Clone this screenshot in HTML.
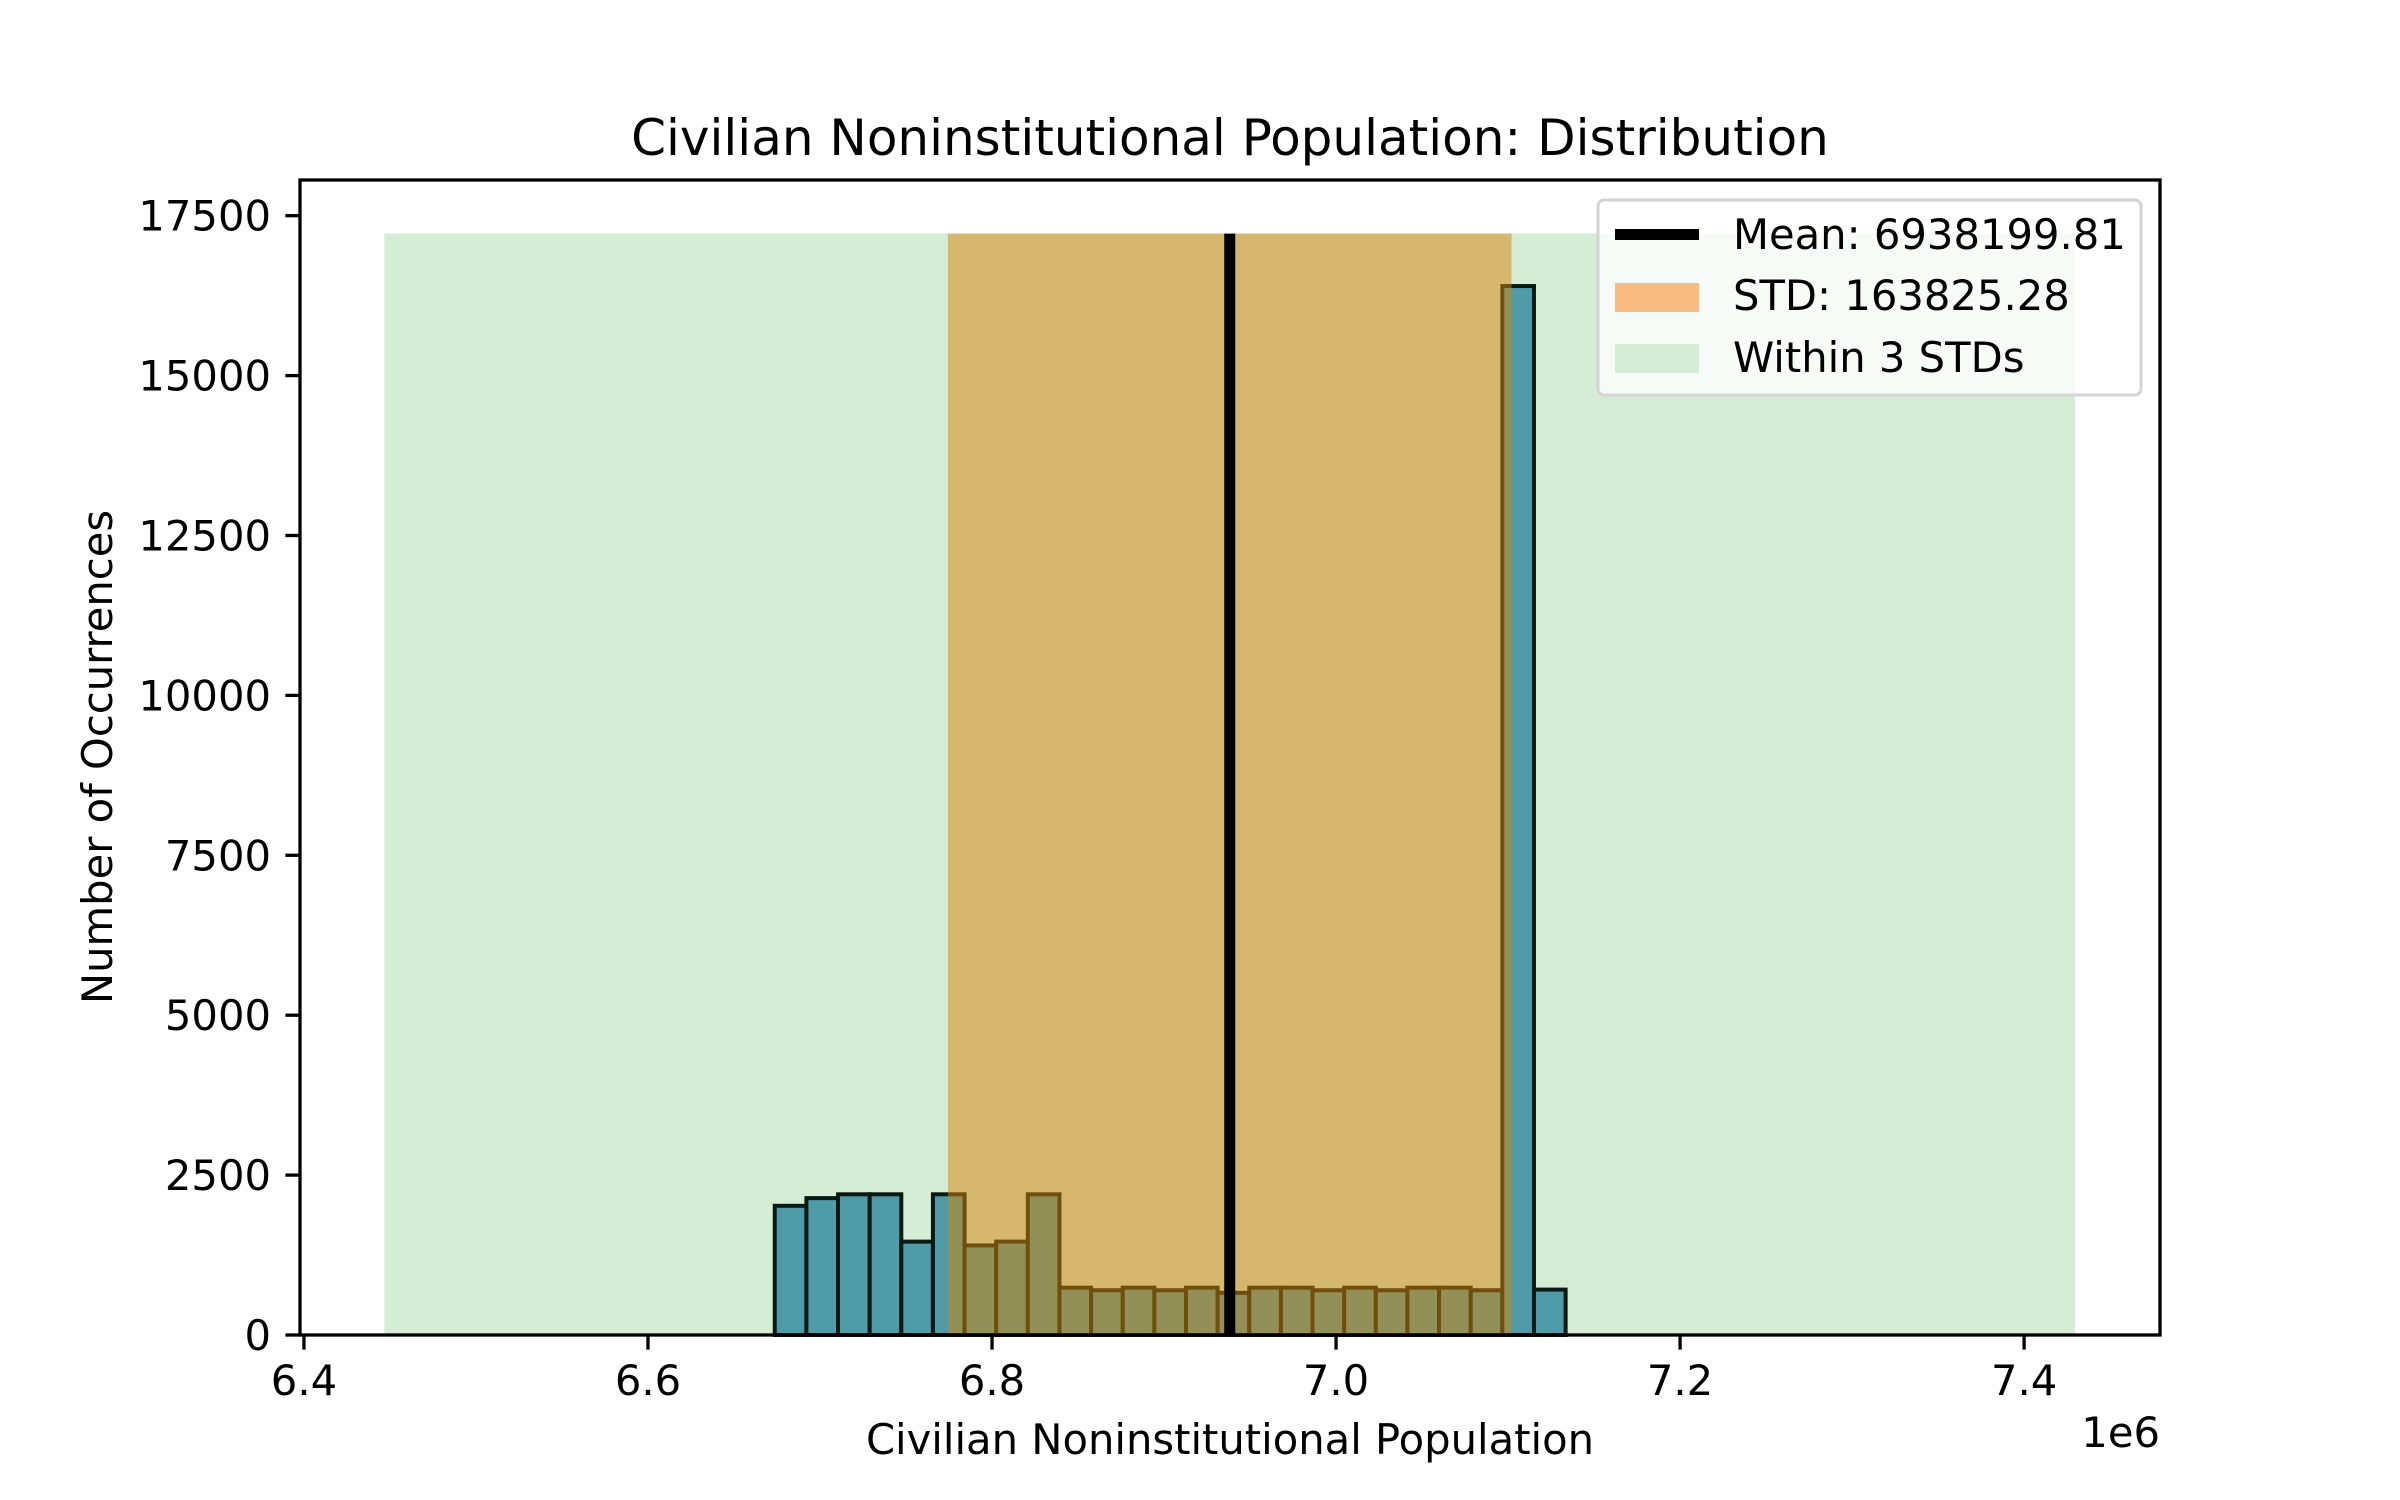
<!DOCTYPE html>
<html><head><meta charset="utf-8">
<style>
html,body{margin:0;padding:0;background:#fff;}
svg{display:block;font-family:"DejaVu Sans","Liberation Sans",sans-serif;}
</style></head>
<body>
<svg id="chart" width="2400" height="1500" viewBox="0 0 2400 1500" xmlns="http://www.w3.org/2000/svg">
<rect width="2400" height="1500" fill="#fff"/>
<g id="plot"></g>
<g id="axes"></g>
<text x="1230" y="155" font-size="50" text-anchor="middle" fill="#000">Civilian Noninstitutional Population: Distribution</text>
<text x="1230" y="1454" font-size="41.7" text-anchor="middle" fill="#000">Civilian Noninstitutional Population</text>
<text x="2160" y="1447" font-size="41.7" text-anchor="end" fill="#000">1e6</text>
<text transform="translate(112,757) rotate(-90)" font-size="41.7" text-anchor="middle" fill="#000">Number of Occurrences</text>
<g>
<rect x="1598" y="200" width="543" height="195" rx="6" fill="#fff" fill-opacity="0.8" stroke="#d4d4d4" stroke-width="3"/>
<rect x="1615" y="229" width="84" height="11" fill="#000"/>
<text x="1733" y="249" font-size="41.7" fill="#000">Mean: 6938199.81</text>
<rect x="1615" y="283" width="84" height="29" fill="#f8bb80"/>
<text x="1733" y="310" font-size="41.7" fill="#000">STD: 163825.28</text>
<rect x="1615" y="344" width="84" height="29" fill="#d5ecd5"/>
<text x="1733" y="372" font-size="41.7" fill="#000">Within 3 STDs</text>
</g>
</svg>
<script>
const binStart = 6673700;
const binWidth = 18390;
const counts = [2020,2140,2200,2200,1460,2200,1400,1460,2200,740,700,740,700,740,660,740,740,700,740,700,740,740,700,16400,710];
const meanValue = 6938199.81;
const stdValue = 163825.28;
const xTicks = [6.4e6,6.6e6,6.8e6,7.0e6,7.2e6,7.4e6];
const xTickLabels = ["6.4","6.6","6.8","7.0","7.2","7.4"];
const yTicks = [0,2500,5000,7500,10000,12500,15000,17500];
const yTickLabels = ["0","2500","5000","7500","10000","12500","15000","17500"];

const L=300,R=2160,T=180,B=1335;
const xMin=6397700, xMax=7479000, yMin=0, yMax=18058;
function x(v){return L+(v-xMin)/(xMax-xMin)*(R-L);}
function y(v){return B-(v-yMin)/(yMax-yMin)*(B-T);}
const NS="http://www.w3.org/2000/svg";
function mk(tag,attrs,parent){const e=document.createElementNS(NS,tag);for(const k in attrs)e.setAttribute(k,attrs[k]);parent.appendChild(e);return e;}
const plot=document.getElementById('plot'), axes=document.getElementById('axes');
const bandTop = y(Math.max(...counts)*1.05);

const g3=mk('rect',{x:x(meanValue-3*stdValue),y:bandTop,width:x(meanValue+3*stdValue)-x(meanValue-3*stdValue),height:B-bandTop,fill:'#d5ecd5'},plot);



counts.forEach((c,i)=>{
  const x0=x(binStart+i*binWidth), x1=x(binStart+(i+1)*binWidth);
  const r=mk('rect',{x:x0,y:y(c),width:x1-x0,height:B-y(c),fill:'#4f9ba8',stroke:'#0a1a12','stroke-width':4},plot);
  
  
});

const sb=mk('rect',{x:x(meanValue-stdValue),y:bandTop,width:x(meanValue+stdValue)-x(meanValue-stdValue),height:B-bandTop,fill:'rgb(213,131,5)','fill-opacity':0.5},plot);



const ml=mk('line',{x1:x(meanValue),x2:x(meanValue),y1:bandTop,y2:B,stroke:'#000','stroke-width':11},plot);



const fr=mk('rect',{x:L,y:T,width:R-L,height:B-T,fill:'none',stroke:'#000','stroke-width':3.3},axes);



xTicks.forEach((v,i)=>{
  const t=mk('line',{x1:x(v),x2:x(v),y1:B,y2:B+14.6,stroke:'#000','stroke-width':3.3},axes);
  
  
  const l=mk('text',{x:x(v),y:B+60,'font-size':41.7,'text-anchor':'middle',fill:'#000'},axes);
  l.textContent=xTickLabels[i];
  
  
});
yTicks.forEach((v,i)=>{
  const t=mk('line',{x1:L-14.6,x2:L,y1:y(v),y2:y(v),stroke:'#000','stroke-width':3.3},axes);
  
  
  const l=mk('text',{x:L-29,y:y(v)+15,'font-size':41.7,'text-anchor':'end',fill:'#000'},axes);
  l.textContent=yTickLabels[i];
  
  
});
</script>
</body></html>
